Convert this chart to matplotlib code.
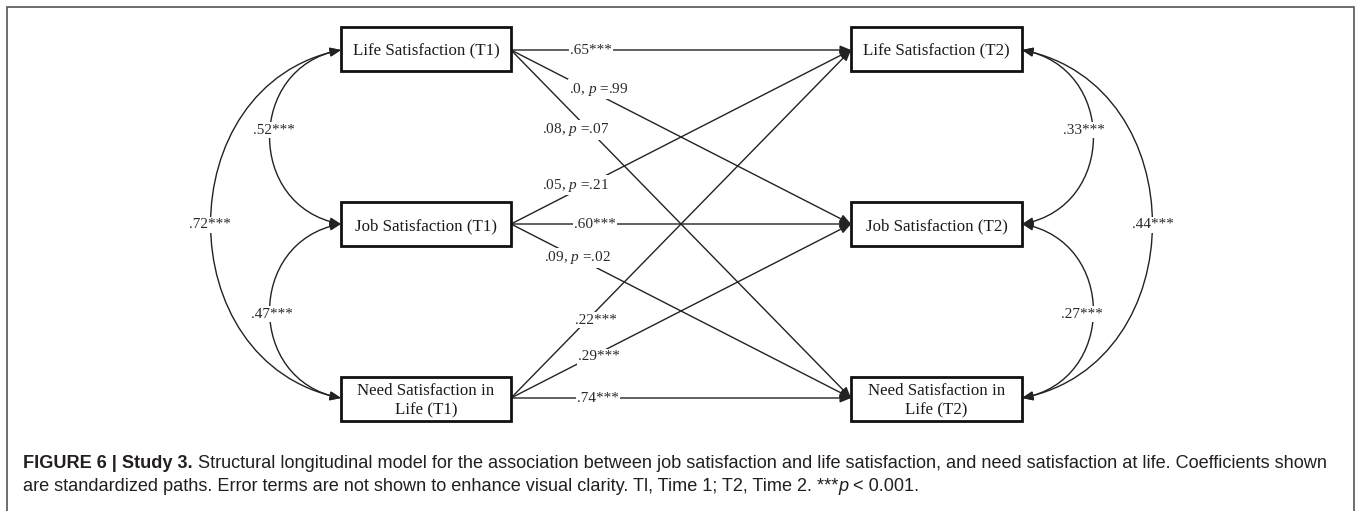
import matplotlib
matplotlib.use("Agg")
import matplotlib.pyplot as plt
from matplotlib.patches import Rectangle, FancyArrowPatch
from matplotlib.path import Path

plt.rcParams['mathtext.fontset'] = 'custom'
plt.rcParams['mathtext.rm'] = 'Liberation Serif'
plt.rcParams['mathtext.sf'] = 'Liberation Serif:italic'

# ---------------- data ----------------
t1_nodes = ["Life Satisfaction (T1)", "Job Satisfaction (T1)", "Need Satisfaction in\nLife (T1)"]
t2_nodes = ["Life Satisfaction (T2)", "Job Satisfaction (T2)", "Need Satisfaction in\nLife (T2)"]

path_src = [0, 0, 0, 1, 1, 1, 2, 2, 2]
path_tgt = [0, 1, 2, 0, 1, 2, 0, 1, 2]
path_labels = [".65***", r".0, $\mathsf{p}$ =.99", r".08, $\mathsf{p}$ =.07",
               r".05, $\mathsf{p}$ =.21", ".60***", r".09, $\mathsf{p}$ =.02",
               ".22***", ".29***", ".74***"]

cov_t1_pairs = [(0, 1), (1, 2), (0, 2)]
cov_t1_labels = [".52***", ".47***", ".72***"]
cov_t2_pairs = [(0, 1), (1, 2), (0, 2)]
cov_t2_labels = [".33***", ".27***", ".44***"]

# caption segments: (text, weight, style)
caption_line1 = [("FIGURE 6 | Study 3.", "bold", "normal"),
                 (" Structural longitudinal model for the association between job satisfaction "
                  "and life satisfaction, and need satisfaction at life. Coefficients shown",
                  "normal", "normal")]
caption_line2 = [("are standardized paths. Error terms are not shown to enhance visual clarity. "
                  "Tl, Time 1; T2, Time 2. ***", "normal", "normal"),
                 ("p", "normal", "italic"),
                 (" < 0.001.", "normal", "normal")]

# ---------------- layout (pixels) ----------------
W, H = 1357, 511
T1_X0, T1_X1 = 341, 511
T2_X0, T2_X1 = 851, 1022
ROW_Y = [49.5, 224, 399]
CONN_Y = [50, 224, 398]
BOX_H = 44
path_label_xy = [(591, 50), (599, 89), (576, 130), (575, 185), (595, 225),
                 (577, 258), (596, 320), (599, 357), (598, 399)]
cov_bulge = [71, 71, 130]
cov_t1_label_xy = [(274, 130), (272, 314), (210, 225)]
cov_t2_label_xy = [(1084, 130), (1082, 314), (1153, 225)]

LINE_C = '#222222'
TEXT_C = '#2a2a2a'
SERIF = 'Liberation Serif'

fig = plt.figure(figsize=(W / 100, H / 100), dpi=100)
ax = fig.add_axes([0, 0, 1, 1])
ax.set_xlim(0, W)
ax.set_ylim(H, 0)
ax.axis('off')

# frame
ax.plot([7, 7, 1354, 1354], [H + 5, 7, 7, H + 5], color='#555555', lw=1.2,
        solid_joinstyle='miter', zorder=1)

# boxes
def draw_box(x0, x1, cy, text):
    ax.add_patch(Rectangle((x0, cy - BOX_H / 2), x1 - x0, BOX_H, facecolor='white',
                           edgecolor='#111111', lw=2.0, zorder=5))
    ax.text((x0 + x1) / 2, cy + 2, text, ha='center', va='center', family=SERIF,
            fontsize=12.2, color='#1a1a1a', zorder=6, linespacing=1.3)

for i, name in enumerate(t1_nodes):
    draw_box(T1_X0, T1_X1, ROW_Y[i], name)
for i, name in enumerate(t2_nodes):
    draw_box(T2_X0, T2_X1, ROW_Y[i], name)

def label(x, y, s):
    ax.text(x, y, s, ha='center', va='center', family=SERIF, fontsize=11,
            color=TEXT_C, zorder=3,
            bbox=dict(facecolor='white', edgecolor='none', pad=1.0))

# regression paths
for s, t, lab, (lx, ly) in zip(path_src, path_tgt, path_labels, path_label_xy):
    xa, ya = T1_X1, CONN_Y[s]
    xb, yb = T2_X0, CONN_Y[t]
    ax.annotate('', xy=(xb, yb), xytext=(xa, ya),
                arrowprops=dict(arrowstyle='-|>,head_length=0.65,head_width=0.27',
                                shrinkA=0, shrinkB=0, lw=1.0, color=LINE_C,
                                mutation_scale=10), zorder=2)
    label(lx, ly, lab)

# covariance arcs
def cov_arc(x_edge, ya, yb, bulge, side):
    k = bulge / 0.75
    h = yb - ya
    verts = [(x_edge, ya), (x_edge + side * k, ya + 0.1 * h),
             (x_edge + side * k, yb - 0.1 * h), (x_edge, yb)]
    path = Path(verts, [Path.MOVETO, Path.CURVE4, Path.CURVE4, Path.CURVE4])
    arr = FancyArrowPatch(path=path, arrowstyle='<|-|>,head_length=0.65,head_width=0.27',
                          mutation_scale=10, lw=1.0, color=LINE_C, zorder=2)
    ax.add_patch(arr)

for (a, b), lab, bl, (lx, ly) in zip(cov_t1_pairs, cov_t1_labels, cov_bulge, cov_t1_label_xy):
    cov_arc(T1_X0, CONN_Y[a], CONN_Y[b], bl, -1)
    label(lx, ly, lab)
for (a, b), lab, bl, (lx, ly) in zip(cov_t2_pairs, cov_t2_labels, cov_bulge, cov_t2_label_xy):
    cov_arc(T2_X1, CONN_Y[a], CONN_Y[b], bl, +1)
    label(lx, ly, lab)

# caption: segments placed one after another on a shared baseline
renderer = fig.canvas.get_renderer()

def place_line(segments, x0_px, base_px, fs):
    arts = []
    x = x0_px
    for txt, wt, st in segments:
        t = fig.text(x / W, 1 - base_px / H, txt, fontsize=fs, fontweight=wt, fontstyle=st,
                     family='Liberation Sans', color='#231f20', ha='left', va='baseline')
        bb = t.get_window_extent(renderer)
        x = bb.x1
        arts.append(t)
    return arts, x - x0_px

fs0 = 11
arts, width = place_line(caption_line1, 23, 468, fs0)
for a in arts:
    a.remove()
fs = fs0 * 1300 / width
place_line(caption_line1, 23, 468, fs)
place_line(caption_line2, 23, 491, fs)

fig.savefig('out.png', dpi=100)
